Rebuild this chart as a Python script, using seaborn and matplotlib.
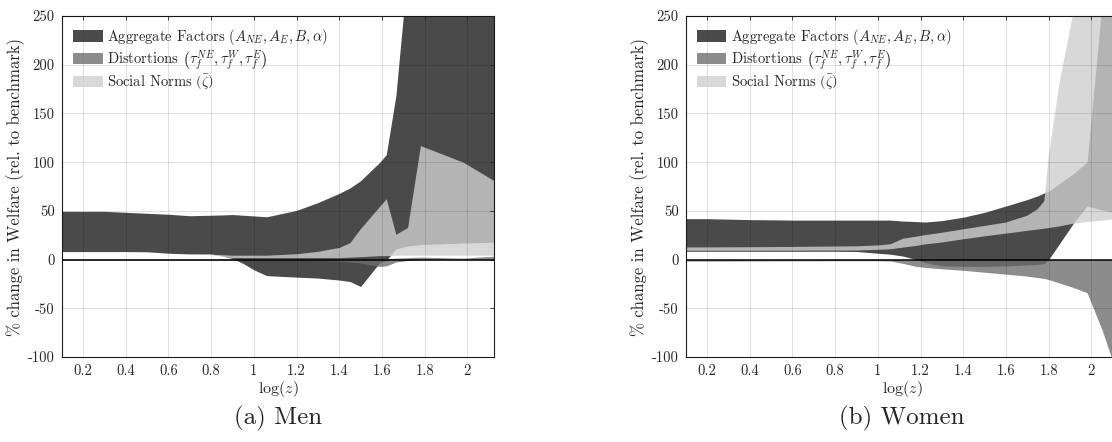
import matplotlib
matplotlib.use("Agg")
import matplotlib.pyplot as plt
import seaborn as sns

# ---- data (welfare change ranges by factor) ----
men_x = [0.1, 0.2, 0.3, 0.4, 0.5, 0.6, 0.7, 0.8, 0.85, 0.9, 0.95, 1.0, 1.06,
         1.2, 1.3, 1.4, 1.45, 1.5, 1.59, 1.62, 1.665, 1.72, 1.78, 1.98, 2.125]
men_agg_lo = [8.2, 8.2, 8.2, 8.2, 8.0, 6.5, 5.8, 5.6, 4.0, 1.0, -4.0, -10.5, -16.5,
              -18.0, -19.0, -21.0, -22.5, -27.6, -3.0, -1.0, 11.0, 14.0, 15.4, 17.0, 17.8]
men_agg_hi = [49.5, 49.5, 49.5, 48.5, 47.5, 46.5, 45.0, 45.5, 45.8, 46.2, 45.5, 44.8, 43.9,
              50.5, 58.5, 68.0, 73.5, 81.0, 100.0, 107.6, 168.0, 297.0, 400.0, 400.0, 400.0]
men_dist_lo = [-0.4, -0.4, -0.4, -0.4, -0.4, -0.4, -0.4, -0.4, -0.5, -0.5, -0.5, -0.5, -0.5,
               -0.5, -0.8, -1.5, -2.5, -3.5, -7.0, -6.5, -2.5, -1.0, 0.0, 0.0, 0.0]
men_dist_hi = [0.4, 0.4, 0.4, 0.4, 0.4, 0.4, 0.4, 0.4, 0.8, 0.8, 0.8, 0.8, 0.8,
               0.8, 0.8, 1.0, 1.0, 1.0, 1.0, 1.0, 1.5, 2.0, 2.5, 1.5, 3.5]
men_soc_lo = [6.0, 6.0, 6.0, 6.0, 6.0, 6.0, 5.8, 5.0, 3.5, 2.0, 2.0, 2.0, 2.0,
              2.0, 2.0, 2.0, 2.5, 3.0, 4.0, 4.0, 4.5, 4.5, 4.5, 4.5, 4.5]
men_soc_hi = [6.0, 6.0, 6.0, 6.0, 6.0, 6.0, 5.8, 5.5, 5.0, 4.5, 4.5, 4.5, 4.5,
              6.0, 8.5, 12.5, 17.5, 32.0, 55.0, 62.5, 26.0, 33.0, 117.0, 100.0, 81.0]

women_x = [0.1, 0.2, 0.3, 0.4, 0.5, 0.6, 0.7, 0.8, 0.9, 1.0, 1.06, 1.12, 1.18, 1.22,
           1.3, 1.4, 1.5, 1.6, 1.7, 1.75, 1.78, 1.8, 1.85, 1.92, 1.98, 2.05, 2.125]
women_agg_lo = [8.5, 8.5, 8.5, 8.5, 8.5, 8.5, 8.5, 8.5, 8.3, 6.5, 5.5, 3.5, 0.0, -3.0,
                -6.5, -7.0, -7.0, -6.5, -5.5, -5.0, -4.0, 0.0, 16.0, 38.5, 55.0, 51.0, 47.0]
women_agg_hi = [42.0, 42.0, 41.5, 41.0, 40.8, 40.5, 40.5, 40.5, 40.5, 40.5, 40.5, 39.5, 39.0, 38.5,
                40.0, 43.5, 48.5, 55.0, 61.6, 65.5, 68.5, 70.0, 78.0, 89.0, 100.0, 262.0, 400.0]
women_dist_lo = [-1.5, -1.5, -1.5, -1.4, -1.4, -1.3, -1.3, -1.2, -1.2, -1.2, -1.5, -4.0, -7.0, -8.0,
                 -9.5, -11.0, -13.0, -15.0, -17.0, -18.5, -19.4, -20.5, -24.0, -29.0, -34.0, -72.0, -120.0]
women_dist_hi = [0.0] * 27
women_soc_lo = [9.0, 9.0, 9.0, 9.0, 9.1, 9.1, 9.2, 9.2, 9.3, 10.0, 10.6, 12.3, 14.0, 15.5,
                17.5, 20.8, 23.8, 26.6, 29.5, 30.8, 31.7, 32.3, 34.0, 37.0, 38.5, 40.0, 41.5]
women_soc_hi = [12.5, 12.5, 12.6, 12.7, 12.8, 13.0, 13.2, 13.4, 13.6, 14.5, 15.7, 21.5, 23.5, 25.0,
                27.5, 31.0, 34.5, 38.0, 45.0, 52.0, 60.0, 105.0, 180.0, 258.0, 350.0, 450.0, 550.0]

labels = [r"Aggregate Factors $(A_{NE}, A_E, B, \alpha)$",
          r"Distortions $\left(\tau_f^{NE}, \tau_f^{W}, \tau_f^{E}\right)$",
          r"Social Norms $\left(\bar{\zeta}\right)$"]
colors = ["#1d1d1d", "#6f6f6f", "#cfcfcf"]

sns.set_theme(style="white")
plt.rcParams["font.family"] = ["cmr10"]
plt.rcParams["mathtext.fontset"] = "cm"
plt.rcParams["axes.unicode_minus"] = False
plt.rcParams["axes.formatter.use_mathtext"] = True

fig = plt.figure(figsize=(11.12, 4.42), dpi=100)
ax1 = fig.add_axes([0.0555, 0.1923, 0.3888, 0.7715])
ax2 = fig.add_axes([0.6166, 0.1923, 0.3888, 0.7715])


def draw(ax, x, bands, caption):
    handles = []
    for (lo, hi), col in zip(bands, colors):
        h = ax.fill_between(x, lo, hi, color=col, alpha=0.8, linewidth=0)
        handles.append(h)
    ax.axhline(0, color="black", lw=1.1, zorder=3)
    ax.set_xlim(0.1, 2.125)
    ax.set_ylim(-100, 250)
    xt = [0.2, 0.4, 0.6, 0.8, 1.0, 1.2, 1.4, 1.6, 1.8, 2.0]
    ax.set_xticks(xt)
    ax.set_xticklabels(["0.2", "0.4", "0.6", "0.8", "1", "1.2", "1.4", "1.6", "1.8", "2"])
    yt = [-100, -50, 0, 50, 100, 150, 200, 250]
    ax.set_yticks(yt)
    ax.set_yticklabels([str(v) for v in yt])
    ax.set_axisbelow(False)
    ax.grid(True, color="black", alpha=0.14, lw=0.6)
    ax.tick_params(direction="in", length=3, width=0.6, top=True, right=True,
                   labelsize=10.5, colors="#262626", pad=5)
    for s in ax.spines.values():
        s.set_color("#1a1a1a")
        s.set_linewidth(0.8)
    ax.set_ylabel("% change in Welfare (rel. to benchmark)", fontsize=12, color="#262626")
    ax.yaxis.set_label_coords(-0.085, 0.5)
    ax.set_xlabel(r"$\log(z)$", fontsize=11.5, color="#262626")
    ax.xaxis.set_label_coords(0.5, -0.065)
    ax.legend(handles, labels, loc="upper left", frameon=False, fontsize=10.5,
              handlelength=2.05, handleheight=0.82, handletextpad=0.3,
              labelspacing=0.05, borderaxespad=0.35)
    ax.text(0.5, -0.18, caption, transform=ax.transAxes, ha="center", va="center",
            fontsize=18)


draw(ax1, men_x, [(men_agg_lo, men_agg_hi), (men_dist_lo, men_dist_hi),
                  (men_soc_lo, men_soc_hi)], "(a) Men")
draw(ax2, women_x, [(women_agg_lo, women_agg_hi), (women_dist_lo, women_dist_hi),
                    (women_soc_lo, women_soc_hi)], "(b) Women")

fig.savefig("out.png", dpi=100)
